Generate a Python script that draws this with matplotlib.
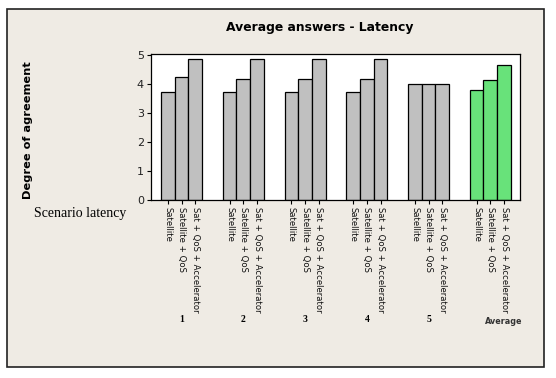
import matplotlib
matplotlib.use("Agg")
import matplotlib.pyplot as plt
import matplotlib.transforms as mtransforms
from matplotlib.patches import Rectangle
import numpy as np

groups = ["1", "2", "3", "4", "5", "Average"]
series = ["Satellite", "Satellite + QoS", "Sat + QoS + Accelerator"]
satellite = [3.73, 3.73, 3.73, 3.73, 4.0, 3.79]
satellite_qos = [4.26, 4.19, 4.19, 4.19, 4.0, 4.15]
sat_qos_acc = [4.86, 4.86, 4.86, 4.86, 4.0, 4.68]

bg = "#EFEBE4"
fig = plt.figure(figsize=(5.56, 3.78), dpi=100)
fig.patch.set_facecolor("white")
fig.patches.append(Rectangle((7 / 556, 1 - 367 / 378), 537 / 556, 358 / 378,
                             transform=fig.transFigure, facecolor=bg,
                             edgecolor="#222222", linewidth=1.2, zorder=-1))

ax = fig.add_axes([151 / 556, 1 - 200 / 378, 369 / 556, 146 / 378])
ax.set_facecolor("white")

width = 1.0
step = 4.5
centers = np.arange(len(groups)) * step
vals = [satellite, satellite_qos, sat_qos_acc]
tick_pos, tick_lab = [], []
for gi, c in enumerate(centers):
    color = "#68E27A" if groups[gi] == "Average" else "#C0C0C0"
    for si in range(3):
        x = c + (si - 1) * width
        ax.bar(x, vals[si][gi], width=width, color=color,
               edgecolor="black", linewidth=0.9)
        tick_pos.append(x)
        tick_lab.append(series[si])

ax.set_xlim(centers[0] - 1.5 * width - 0.73, centers[-1] + 1.5 * width + 0.66)
ax.set_ylim(0, 5.05)
ax.set_yticks([0, 1, 2, 3, 4, 5])
ax.set_xticks(tick_pos)
ax.set_xticklabels(tick_lab, rotation=-90, fontsize=6.1, color="#111111",
                   va="top", ha="center")
ax.tick_params(axis="x", length=3, pad=2, width=0.8)
ax.tick_params(axis="y", length=3, labelsize=8, pad=2, width=0.8, labelcolor="#222222")
for sp in ax.spines.values():
    sp.set_linewidth(0.9)

trans = mtransforms.blended_transform_factory(ax.transData, fig.transFigure)
for c, g in zip(centers, groups):
    if g == "Average":
        ax.text(c + 0.95, 1 - 321 / 378, g, transform=trans, ha="center", va="center",
                fontsize=5.8, fontweight="bold", color="#333333")
    else:
        ax.text(c, 1 - 320 / 378, g, transform=trans, ha="center", va="center",
                fontsize=7, fontweight="bold", family="Liberation Serif")

fig.text(320 / 556, 1 - 28 / 378, "Average answers - Latency", ha="center", va="center",
         fontsize=8.9, fontweight="bold")
fig.text(28 / 556, 1 - 130 / 378, "Degree of agreement", rotation=90, ha="center",
         va="center", fontsize=8.2, fontweight="bold")
fig.text(80 / 556, 1 - 214 / 378, "Scenario latency", ha="center", va="center",
         fontsize=10, family="Liberation Serif")

fig.savefig("out.png", dpi=100)
